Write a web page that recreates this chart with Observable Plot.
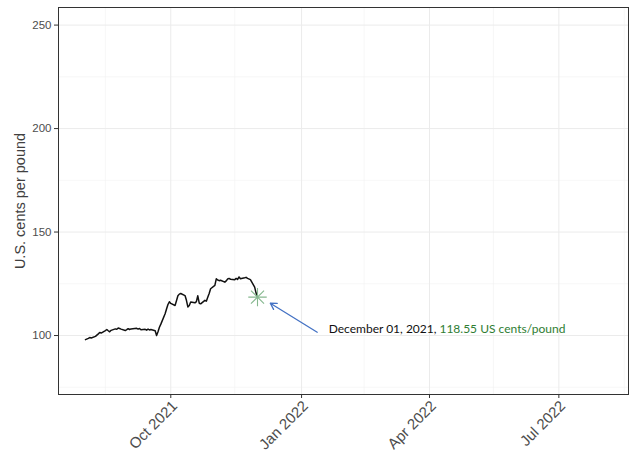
<!DOCTYPE html>
<html><head><meta charset="utf-8">
<script src="https://cdn.jsdelivr.net/npm/d3@7"></script>
<script src="https://cdn.jsdelivr.net/npm/@observablehq/plot@0.6"></script>
<style>body{margin:0;background:#fff;} #chart{width:629px;height:457px;}</style>
</head><body><div id="chart"></div>
<script>
const dates = ["2021-08-02","2021-08-04","2021-08-05","2021-08-06","2021-08-09","2021-08-10","2021-08-11","2021-08-12","2021-08-13","2021-08-16","2021-08-17","2021-08-18","2021-08-19","2021-08-20","2021-08-23","2021-08-24","2021-08-25","2021-08-26","2021-08-27","2021-08-30","2021-08-31","2021-09-01","2021-09-02","2021-09-03","2021-09-07","2021-09-08","2021-09-09","2021-09-10","2021-09-13","2021-09-14","2021-09-15","2021-09-16","2021-09-17","2021-09-20","2021-09-21","2021-09-22","2021-09-23","2021-09-24","2021-09-27","2021-09-28","2021-09-29","2021-09-30","2021-10-01","2021-10-04","2021-10-05","2021-10-06","2021-10-07","2021-10-08","2021-10-11","2021-10-12","2021-10-13","2021-10-14","2021-10-15","2021-10-18","2021-10-19","2021-10-20","2021-10-21","2021-10-22","2021-10-25","2021-10-26","2021-10-27","2021-10-28","2021-10-29","2021-11-01","2021-11-02","2021-11-03","2021-11-04","2021-11-05","2021-11-08","2021-11-09","2021-11-10","2021-11-11","2021-11-12","2021-11-15","2021-11-16","2021-11-17","2021-11-18","2021-11-19","2021-11-22","2021-11-23","2021-11-24","2021-11-26","2021-11-29","2021-11-30","2021-12-01"];
const prices = [98.0,98.6,99.0,98.8,99.6,100.2,100.8,101.5,101.2,102.4,102.9,102.3,101.8,102.5,103.2,103.0,103.6,103.4,103.1,102.4,102.8,103.3,102.9,103.2,103.5,103.1,103.4,102.8,103.0,102.6,103.1,102.7,102.9,102.3,100.0,101.8,104.0,105.5,110.5,112.8,115.0,116.3,115.5,114.5,116.8,119.2,120.0,120.3,119.3,117.0,113.8,114.5,116.2,115.8,116.4,119.2,115.6,115.3,117.0,116.6,118.5,120.3,122.6,124.2,127.4,126.8,126.5,126.7,125.8,126.4,127.3,127.6,127.2,127.0,127.6,127.1,128.3,127.4,127.9,128.1,127.6,127.0,123.4,120.5,118.55];

const yTicks = [100, 150, 200, 250];
const yMinor = [75, 125, 175, 225];
const xTicks = ["2021-10-01","2022-01-01","2022-04-01","2022-07-01"];
const xTickLabels = ["Oct 2021","Jan 2022","Apr 2022","Jul 2022"];
const xMinor = ["2021-08-16","2021-11-15","2022-02-14","2022-05-16","2022-08-16"];
const xDomain = ["2021-07-14","2022-08-19"];
const yDomain = [71.5, 258.5];
const yTitle = "U.S. cents per pound";

const annDate = "2021-12-01";
const annValue = 118.55;
const annTextA = "December 01, 2021,";
const annTextB = "118.55 US cents/pound";
const annTextDate = "2022-04-08";
const annTextValue = 102.9;
const arrowFrom = {date: "2022-01-12", value: 101.6};
const arrowTo = {date: "2021-12-10", value: 115.6};

const D = s => new Date(s);
const data = dates.map((d, i) => ({date: D(d), value: prices[i]}));
const labelOf = new Map(xTicks.map((t, i) => [+D(t), xTickLabels[i]]));

const chart = Plot.plot({
  width: 629,
  height: 457,
  marginLeft: 58,
  marginTop: 7,
  marginRight: 1,
  marginBottom: 63,
  style: {fontFamily: "'Liberation Sans', Arial, sans-serif", background: "#fff"},
  x: {type: "utc", domain: xDomain.map(D)},
  y: {domain: yDomain},
  marks: [
    Plot.ruleY(yMinor, {stroke: "#f2f2f2", strokeWidth: 0.6}),
    Plot.ruleX(xMinor.map(D), {stroke: "#f2f2f2", strokeWidth: 0.6}),
    Plot.ruleY(yTicks, {stroke: "#ebebeb", strokeWidth: 1}),
    Plot.ruleX(xTicks.map(D), {stroke: "#ebebeb", strokeWidth: 1}),
    Plot.frame({stroke: "#333", strokeWidth: 1}),
    Plot.axisY({ticks: yTicks, tickSize: 4, tickPadding: 3, fontSize: 11.5, stroke: "#333", fill: "#4d4d4d", label: null}),
    Plot.axisX({ticks: xTicks.map(D), tickFormat: () => "", tickSize: 4, stroke: "#333", label: null}),
    Plot.axisX({ticks: xTicks.map(D), tickFormat: d => labelOf.get(+d), tickSize: 0, tickPadding: 9, dx: 4, tickRotate: -45, fontSize: 15, fill: "#4d4d4d", label: null}),
    Plot.text([yTitle], {frameAnchor: "left", textAnchor: "middle", rotate: -90, dx: -38, fontSize: 14.5, fill: "#404040", text: d => d}),
    Plot.line(data, {x: "date", y: "value", stroke: "#111", strokeWidth: 1.5}),
    Plot.dot([{date: D(annDate), value: annValue}], {x: "date", y: "value", symbol: "plus", r: 6, stroke: "#86b88f", strokeWidth: 1.1}),
    Plot.dot([{date: D(annDate), value: annValue}], {x: "date", y: "value", symbol: "times", r: 6, stroke: "#86b88f", strokeWidth: 1.1}),
    Plot.arrow([{x1: D(arrowFrom.date), y1: arrowFrom.value, x2: D(arrowTo.date), y2: arrowTo.value}], {x1: "x1", y1: "y1", x2: "x2", y2: "y2", stroke: "#4472c4", strokeWidth: 1.3, headLength: 8}),
    Plot.text([annTextA], {x: D(annTextDate), y: annTextValue, text: d => d, textAnchor: "end", dx: -3, fill: "#111", fontSize: 12, fontFamily: "Lato"}),
    Plot.text([annTextB], {x: D(annTextDate), y: annTextValue, text: d => d, textAnchor: "start", fill: "#2e7d32", fontSize: 12, fontFamily: "Lato"})
  ]
});
document.getElementById("chart").appendChild(chart);
</script>
</body></html>
